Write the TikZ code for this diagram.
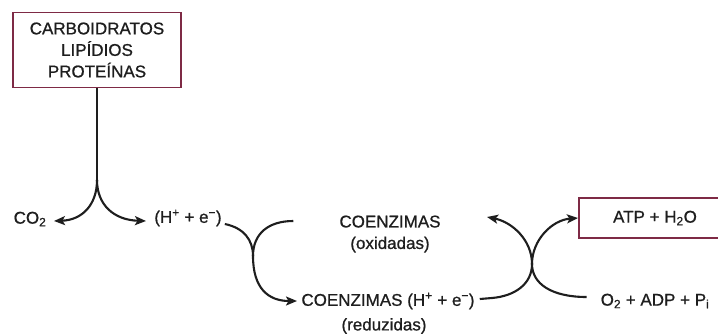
\documentclass[tikz,border=0pt]{standalone}
\usepackage{fontspec}
\setmainfont{Liberation Sans}[FakeBold=0.8]
\usetikzlibrary{arrows.meta}
\definecolor{boxred}{HTML}{7E2A45}
\definecolor{ink}{HTML}{1E1E1E}
\tikzset{
  lbl/.style={text=ink, font=\fontsize{17}{21.5}\selectfont, inner sep=0pt, align=center},
  redbox/.style={draw=boxred, line width=1.6pt, fill=white},
  flow/.style={draw=ink, line width=2.1pt},
  tip/.style={-{Stealth[length=11pt,width=9pt,inset=2.5pt]}}
}
\begin{document}
\begin{tikzpicture}[x=1pt,y=-1pt]
\useasboundingbox (0,0) rectangle (718,333);
% top box
\node[redbox, minimum width=168pt, minimum height=75pt, inner sep=0pt] (src) at (97,50) {};
\node[lbl] (srct) at (97,50) {CARBOIDRATOS\\LIPÍDIOS\\PROTEÍNAS};
% ATP box
\node[redbox, minimum width=142pt, minimum height=40pt, inner sep=0pt, anchor=west] (atp) at (578,218) {};
\node[lbl] (atpt) at (655,218) {ATP + H\textsubscript{2}O};
% labels
\node[lbl] (co2) at (30,219) {CO\textsubscript{2}};
\node[lbl] (he) at (188,218) {(H\textsuperscript{+} + e\textsuperscript{−})};
\node[lbl] (cox) at (390,234) {COENZIMAS\\(oxidadas)};
\node[lbl] (cred) at (388,301) {COENZIMAS (H\textsuperscript{+} + e\textsuperscript{−})};
\node[lbl] (credb) at (384,326) {(reduzidas)};
\node[lbl] (o2) at (655,301) {O\textsubscript{2} + ADP + P\textsubscript{i}};
% coordinates
\coordinate (j1) at (97,180);
\coordinate (j2) at (253,256);
\coordinate (j3) at (532,264);
\coordinate (co2tip) at (54,221);
\coordinate (hetip) at (146,221);
\coordinate (crtip) at (297,301);
\coordinate (oxtip) at (487,217);
% top split
\draw[flow] (src.south) -- (j1);
\draw[flow, tip] (j1) .. controls (97,205) and (82,220) .. (co2tip);
\draw[flow, tip] (j1) .. controls (97,205) and (114,220) .. (hetip);
% left Y
\draw[flow, tip] ([xshift=3pt]he.east |- 0,224) .. controls (244,228) and (253,240) .. (j2)
   .. controls (253,288) and (268,301) .. (crtip);
\draw[flow] ([xshift=-46pt]cox.west |- 0,221) .. controls (268,221) and (253,234) .. (j2);
% right X
\draw[flow, tip] ([xshift=5pt]cred.east |- 0,299) -- (492,298) .. controls (515,296) and (532,284) .. (j3)
   .. controls (532,240) and (512,222) .. (oxtip);
\draw[flow, tip] ([xshift=-14pt]o2.west |- 0,297) .. controls (552,297) and (532,284) .. (j3)
   .. controls (532,240) and (552,220) .. (atp.west);
\end{tikzpicture}
\end{document}
